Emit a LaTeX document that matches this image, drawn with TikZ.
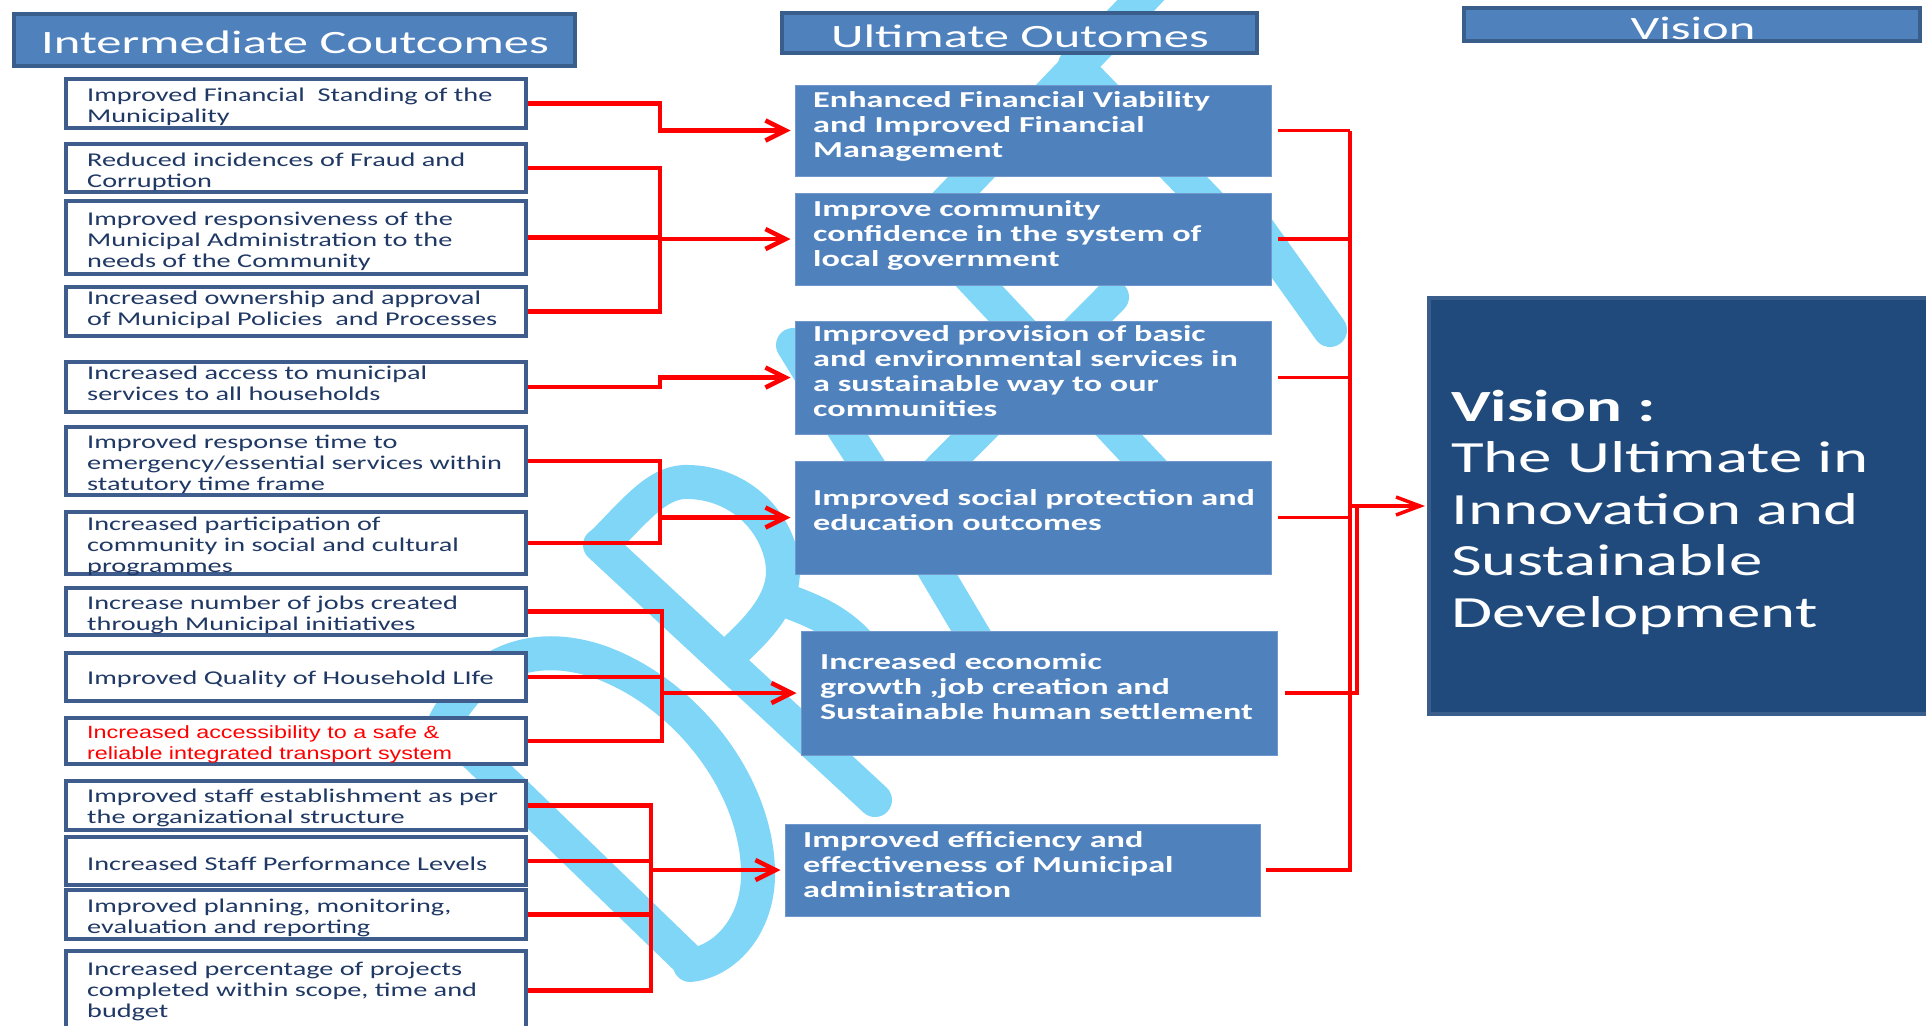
\documentclass[tikz,border=0pt]{standalone}
\usepackage{fontspec}
\usetikzlibrary{arrows.meta,fit}

\newfontfamily\outfont[FakeStretch=1.45]{Carlito}
\newfontfamily\headfont[FakeStretch=1.55]{Carlito}
\newfontfamily\midfont[FakeStretch=1.5]{Carlito}
\newfontfamily\arialfont[FakeStretch=1.32]{Liberation Sans}

\definecolor{hdrblue}{RGB}{79,129,189}
\definecolor{hdredge}{RGB}{58,94,140}
\definecolor{midedge}{RGB}{112,152,204}
\definecolor{navytext}{RGB}{31,56,100}
\definecolor{boxedge}{RGB}{62,92,140}
\definecolor{deepblue}{RGB}{32,74,124}
\definecolor{wmblue}{RGB}{128,214,247}
\definecolor{linkred}{RGB}{255,0,0}

% left-aligned lines, baseline of the whole block = baseline of the first line
\newcommand\txtlines[1]{\vtop{\let\\\cr\halign{##\hfil\cr#1\crcr}}}

\tikzset{
  hdrbox/.style={fill=hdrblue, draw=hdredge, line width=4bp, inner sep=0},
  hdrtext/.style={inner sep=0, text=white, font=\headfont\fontsize{32.6bp}{36bp}\selectfont},
  outbox/.style={fill=white, draw=boxedge, line width=4.5bp, inner sep=0},
  outtext/.style={inner sep=0, text=navytext, font=\outfont\fontsize{19.5bp}{21.3bp}\selectfont},
  redtext/.style={inner sep=0, text=linkred, font=\arialfont\fontsize{17.7bp}{21.3bp}\selectfont},
  midbox/.style={fill=hdrblue, draw=midedge, line width=1bp, inner sep=0},
  midtext/.style={inner sep=0, text=white, font=\midfont\bfseries\fontsize{22.8bp}{25.2bp}\selectfont},
  visbox/.style={fill=deepblue, draw=hdredge, line width=4bp, inner sep=0},
  vistext/.style={inner sep=0, text=white, font=\midfont\fontsize{44.6bp}{51.5bp}\selectfont},
  wm/.style={draw=wmblue, line width=34bp, line cap=round, line join=round},
  link/.style={draw=linkred, line width=4.5bp},
  thinlink/.style={draw=linkred, line width=3.5bp},
  feed/.style={link, -{Straight Barb[length=20bp,width=20bp]}, shorten >=4bp},
  visfeed/.style={thinlink, -{Straight Barb[length=24bp,width=18bp]}, shorten >=2bp},
}

% outcome box: name, top, bottom, first baseline, text style, text
\newcommand\outcome[6]{%
  \node[outbox, fit={(66,#2+2) (526,#3-2)}] (#1) {};
  \node[#5, anchor=base west] (#1t) at (87,#4) {\txtlines{#6}};
}

\begin{document}
\begin{tikzpicture}[x=1bp,y=-1bp]
\useasboundingbox (0,0) rectangle (1926,1025);
\clip (0,0) rectangle (1926,1025);

% background logo strokes
\draw[wm] (1160,-20) -- (935,215);
\draw[wm] (1075,65) -- (1230,225);
\draw[wm] (1255,225) -- (1330,330);
\draw[wm] (950,255) -- (1180,500);
\draw[wm] (1112,297) -- (890,520);
\draw[wm] (835,415) -- (880,485);
\draw[wm] (905,520) -- (1000,680);
\draw[wm] (793,345) -- (830,405);
\draw[wm] (600,545) -- (875,800);
\draw[wm] (603,543) .. controls (640,505) and (660,480) .. (690,482)
  .. controls (740,484) and (775,520) .. (782,560)
  .. controls (788,595) and (765,622) .. (735,650);
\draw[wm] (785,600) .. controls (810,610) and (835,618) .. (860,645);
\draw[wm] (445,725) -- (690,962);
\draw[wm] (445,722) .. controls (475,665) and (530,638) .. (600,662)
  .. controls (690,695) and (760,790) .. (758,878)
  .. controls (756,930) and (722,962) .. (690,965);

% column headers
\node[hdrbox, fit={(14,14) (575,66)}] (hint) {};
\node[hdrtext, anchor=base] (hintt) at (295,53) {Intermediate Coutcomes};
\node[hdrbox, fit={(782,13) (1257,53)}] (hult) {};
\node[hdrtext, anchor=base] (hultt) at (1020,47) {Ultimate Outomes};
\node[hdrbox, fit={(1464,8) (1920,41)}] (hvis) {};
\node[hdrtext, anchor=base] (hvist) at (1693,39) {Vision};

% intermediate outcomes
\outcome{o1}{77}{130}{101}{outtext}{Improved Financial~ Standing of the\\Municipality}
\outcome{o2}{142}{194}{166}{outtext}{Reduced incidences of Fraud and\\Corruption}
\outcome{o3}{199}{276}{225}{outtext}{Improved responsiveness of the\\Municipal Administration to the\\needs of the Community}
\outcome{o4}{285}{338}{304}{outtext}{Increased ownership and approval\\of Municipal Policies~ and Processes}
\outcome{o5}{360}{414}{379}{outtext}{Increased access to municipal\\services to all households}
\outcome{o6}{425}{497}{448}{outtext}{Improved response time to\\emergency/essential services within\\statutory time frame}
\outcome{o7}{510}{576}{530}{outtext}{Increased participation of\\community in social and cultural\\programmes}
\outcome{o8}{586}{637}{609}{outtext}{Increase number of jobs created\\through Municipal initiatives}
\outcome{o9}{651}{703}{684}{outtext}{Improved Quality of Household LIfe}
\outcome{o10}{716}{766}{738}{redtext}{Increased accessibility to a safe \&\\reliable integrated transport system}
\outcome{o11}{779}{832}{802}{outtext}{Improved staff establishment as per\\the organizational structure}
\outcome{o12}{835}{887}{870}{outtext}{Increased Staff Performance Levels}
\outcome{o13}{888}{941}{912}{outtext}{Improved planning, monitoring,\\evaluation and reporting}
\outcome{o14}{949}{1032}{975}{outtext}{Increased percentage of projects\\completed within scope, time and\\budget}

% ultimate outcomes
\node[midbox, fit={(795,85) (1271,176)}] (mA) {};
\node[midtext, anchor=base west] (mAt) at (813,107) {\txtlines{Enhanced Financial Viability\\and Improved Financial\\Management}};
\node[midbox, fit={(795,193) (1271,285)}] (mB) {};
\node[midtext, anchor=base west] (mBt) at (813,216) {\txtlines{Improve community\\confidence in the system of\\local government}};
\node[midbox, fit={(795,321) (1271,434)}] (mC) {};
\node[midtext, anchor=base west] (mCt) at (813,341) {\txtlines{Improved provision of basic\\and environmental services in\\a sustainable way to our\\communities}};
\node[midbox, fit={(795,461) (1271,574)}] (mD) {};
\node[midtext, anchor=base west] (mDt) at (813,505) {\txtlines{Improved social protection and\\education outcomes}};
\node[midbox, fit={(801,631) (1277,755)}] (mE) {};
\node[midtext, anchor=base west] (mEt) at (820,669) {\txtlines{Increased economic\\growth ,job creation and\\Sustainable human settlement}};
\node[midbox, fit={(785,824) (1260,916)}] (mF) {};
\node[midtext, anchor=base west] (mFt) at (803,847) {\txtlines{Improved efficiency and\\effectiveness of Municipal\\administration}};

% vision
\node[visbox, fit={(1429,298) (1945,714)}] (vis) {};
\node[vistext, anchor=base west] (vist) at (1451,421) {\txtlines{\bfseries Vision :\\The Ultimate in\\Innovation and\\Sustainable\\Development}};

% connector buses
\coordinate (busL) at (660,0);
\coordinate (busE) at (662,0);
\coordinate (busF) at (651,0);
\coordinate (busR) at (1350,0);
\coordinate (busV) at (1357,0);

% intermediate -> ultimate
\draw[feed] (o1.east) -| (busL |- mA.west) -- (mA.west);

\draw[link] (o2.east) -| (busL |- o4.east) -- (o4.east);
\draw[link] (o3.east) -- (o3.east -| busL);
\draw[feed] (busL |- mB.west) -- (mB.west);

\draw[feed] (o5.east) -| (busL |- mC.west) -- (mC.west);

\draw[link] (o6.east) -| (busL |- o7.east) -- (o7.east);
\draw[feed] (busL |- mD.west) -- (mD.west);

\draw[link] (o8.east) -| (busE |- o10.east) -- (o10.east);
\draw[link] (o9.east) -- (o9.east -| busE);
\draw[feed] (busE |- mE.west) -- (mE.west);

\draw[link] (o11.east) -| (busF |- o14.east) -- (o14.east);
\draw[link] (o12.east) -- (o12.east -| busF);
\draw[link] (o13.east) -- (o13.east -| busF);
\draw[feed] (busF |- mF.west) -- (mF.west);

% ultimate -> vision
\foreach \m in {mA,mB,mC,mD} \draw[thinlink] ([xshift=6bp]\m.east) -- (\m.east -| busR);
\draw[link] (busR |- mA.east) -- (busR |- mF.east) -- ([xshift=5bp]mF.east);
\draw[thinlink] ([xshift=7bp]mE.east) -| (busV |- vis.west) -- (busR |- vis.west);
\draw[visfeed] (busV |- vis.west) -- (vis.west);
\end{tikzpicture}
\end{document}
